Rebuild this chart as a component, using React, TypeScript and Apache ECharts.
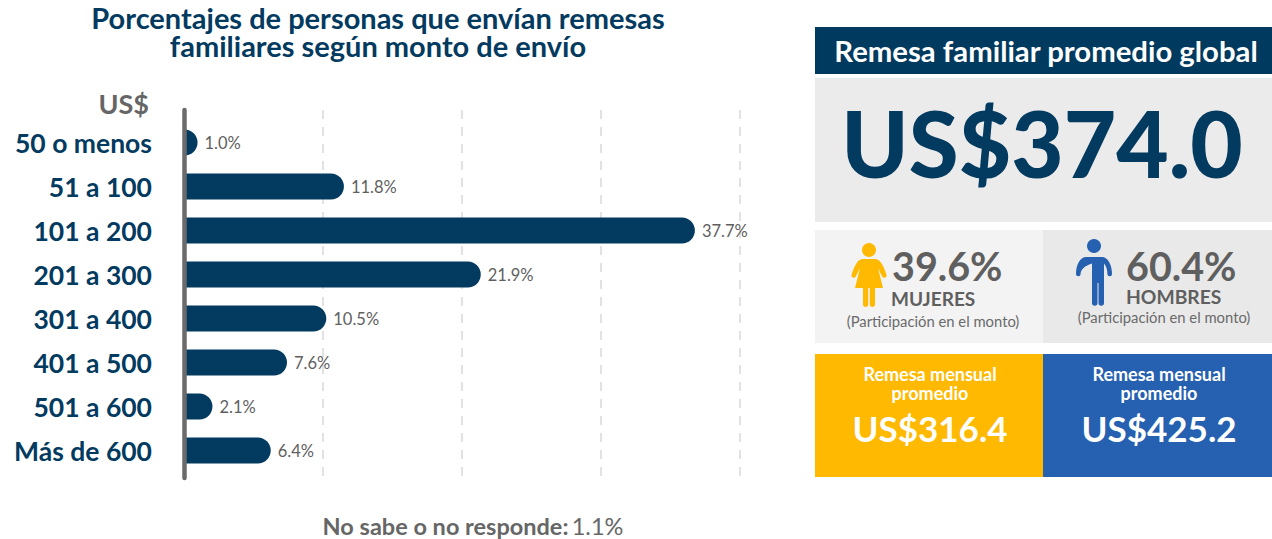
import React, { useEffect, useRef } from "react";
import * as echarts from "echarts";

const categories = ["50 o menos", "51 a 100", "101 a 200", "201 a 300", "301 a 400", "401 a 500", "501 a 600", "Más de 600"];
const shares = [1.0, 11.8, 37.7, 21.9, 10.5, 7.6, 2.1, 6.4];
const noResponse = "1.1%";
const globalAverage = "US$374.0";
const womenShare = "39.6%";
const menShare = "60.4%";
const womenMonthly = "US$316.4";
const menMonthly = "US$425.2";

const NAVY = "#033a60";
const GREY = "#5f5f5f";
const FONT = "Lato, sans-serif";

const womanPath =
  "M18 0a7 7 0 1 0 .01 0z M11 16h14c5 1 8 8 10.500 16a2.300 2.300 0 0 1-4.300 1.500L27 25 32 45H24v17a2.700 2.700 0 0 1-5.200 0V45h-1.600v17a2.700 2.700 0 0 1-5.200 0V45H4L9 25 4.800 33.500A2.300 2.300 0 0 1 .5 32C3 24 6 17 11 16z";
const manPath =
  "M18 0a7 7 0 1 0 .01 0z M10 18h16c6 0 10 8 10 17a2.300 2.300 0 0 1-4.600 0c0-4-1-8-3.400-10.500V64a2.700 2.700 0 0 1-5.500 0V44h-1v20a2.700 2.700 0 0 1-5.500 0V24.500C8 27 4.600 31 4.600 35a2.300 2.300 0 0 1-4.600 0C0 26 4 18 10 18z";
echarts.graphic.registerShape("womanIcon", echarts.graphic.extendPath(womanPath, {}));
echarts.graphic.registerShape("manIcon", echarts.graphic.extendPath(manPath, {}));

function txt(text: string, x: number, y: number, font: string, fill: string, textAlign = "center") {
  return { type: "text", x, y, z: 10, style: { text, x: 0, y: 0, font, fill, textAlign, textVerticalAlign: "middle" } };
}
function box(x: number, y: number, width: number, height: number, fill: string) {
  return { type: "rect", x: 0, y: 0, z: 1, shape: { x, y, width, height }, style: { fill } };
}

export default function App() {
  const ref = useRef<HTMLDivElement>(null);
  useEffect(() => {
    const chart = echarts.init(ref.current!, null, { renderer: "svg" });
    chart.setOption({
      animation: false,
      backgroundColor: "#ffffff",
      grid: [
        { left: 184, top: 120.5, width: 556, height: 352 },
        { left: 184, top: 110, width: 556, height: 368 },
      ],
      xAxis: [
        { type: "value", gridIndex: 0, min: 0, max: 41.03, show: false },
        {
          type: "value", gridIndex: 1, min: 0, max: 40, interval: 10,
          axisLine: { show: false }, axisTick: { show: false }, axisLabel: { show: false },
          splitLine: { show: true, lineStyle: { color: "#e2e2e2", width: 2, type: [9, 8] } },
        },
      ],
      yAxis: [
        {
          type: "category", gridIndex: 0, data: categories, inverse: true,
          axisLine: { show: false }, axisTick: { show: false },
          axisLabel: { margin: 32, color: NAVY, fontFamily: FONT, fontWeight: "bold", fontSize: 26.5, padding: [0, 0, 3, 0] },
        },
        {
          type: "value", gridIndex: 1, min: 0, max: 1, z: 5,
          axisLine: { show: true, onZero: false, lineStyle: { color: "#6b6b6b", width: 4.5, cap: "round" } },
          axisTick: { show: false }, axisLabel: { show: false }, splitLine: { show: false },
        },
      ],
      series: [
        {
          type: "bar", xAxisIndex: 0, yAxisIndex: 0, data: shares, barWidth: 26, z: 3,
          itemStyle: { color: NAVY, borderRadius: [0, 13, 13, 0] },
          label: {
            show: true, position: "right", distance: 7, color: GREY, fontFamily: FONT, fontSize: 16.5,
            formatter: (p: any) => `${p.value.toFixed(1)}%`,
          },
        },
      ],
      graphic: [
        txt("Porcentajes de personas que envían remesas", 378, 17.5, `bold 29px ${FONT}`, NAVY),
        txt("familiares según monto de envío", 378, 45.5, `bold 29px ${FONT}`, NAVY),
        txt("US$", 149, 103, `bold 27px ${FONT}`, "#666666", "right"),
        {
          type: "text", x: 473, y: 526, z: 10,
          style: {
            text: `{b|No sabe o no responde:} {r|${noResponse}}`, textAlign: "center", textVerticalAlign: "middle",
            rich: {
              b: { fontFamily: FONT, fontWeight: "bold", fontSize: 23.5, fill: "#666666" },
              r: { fontFamily: FONT, fontSize: 23.5, fill: "#666666" },
            },
          },
        },
        box(815, 27, 457, 47, "#003a5f"),
        txt("Remesa familiar promedio global", 1046, 50, `bold 29.3px ${FONT}`, "#ffffff"),
        box(815, 78, 457, 144, "#ebebeb"),
        txt(globalAverage, 1042, 143, `900 90.5px ${FONT}`, NAVY),
        box(815, 230, 228, 113, "#f3f3f3"),
        box(1043, 230, 229, 113, "#e9e9e9"),
        { type: "womanIcon", x: 851, y: 243, z: 5, style: { fill: "#ffb900" } },
        { type: "manIcon", x: 1076, y: 239, z: 5, style: { fill: "#2660b0" } },
        txt(womenShare, 892, 265.5, `bold 39.5px ${FONT}`, GREY, "left"),
        txt("MUJERES", 891, 298, `bold 19px ${FONT}`, GREY, "left"),
        txt("(Participación en el monto)", 933, 321, `14.8px ${FONT}`, "#6a6a6a"),
        txt(menShare, 1126, 265.5, `bold 39.5px ${FONT}`, GREY, "left"),
        txt("HOMBRES", 1126, 296, `bold 19.3px ${FONT}`, GREY, "left"),
        txt("(Participación en el monto)", 1164, 317, `14.8px ${FONT}`, "#6a6a6a"),
        box(815, 354, 228, 123, "#ffb900"),
        box(1043, 354, 229, 123, "#2660b0"),
        txt("Remesa mensual", 930, 373.5, `bold 18px ${FONT}`, "#ffffff"),
        txt("promedio", 930, 392.5, `bold 18px ${FONT}`, "#ffffff"),
        txt(womenMonthly, 930, 428, `bold 35px ${FONT}`, "#ffffff"),
        txt("Remesa mensual", 1159, 373.5, `bold 18px ${FONT}`, "#ffffff"),
        txt("promedio", 1159, 392.5, `bold 18px ${FONT}`, "#ffffff"),
        txt(menMonthly, 1159, 428, `bold 35px ${FONT}`, "#ffffff"),
      ],
    });
    return () => chart.dispose();
  }, []);
  return <div ref={ref} style={{ position: "fixed", left: 0, top: 0, width: 1272, height: 539 }} />;
}
